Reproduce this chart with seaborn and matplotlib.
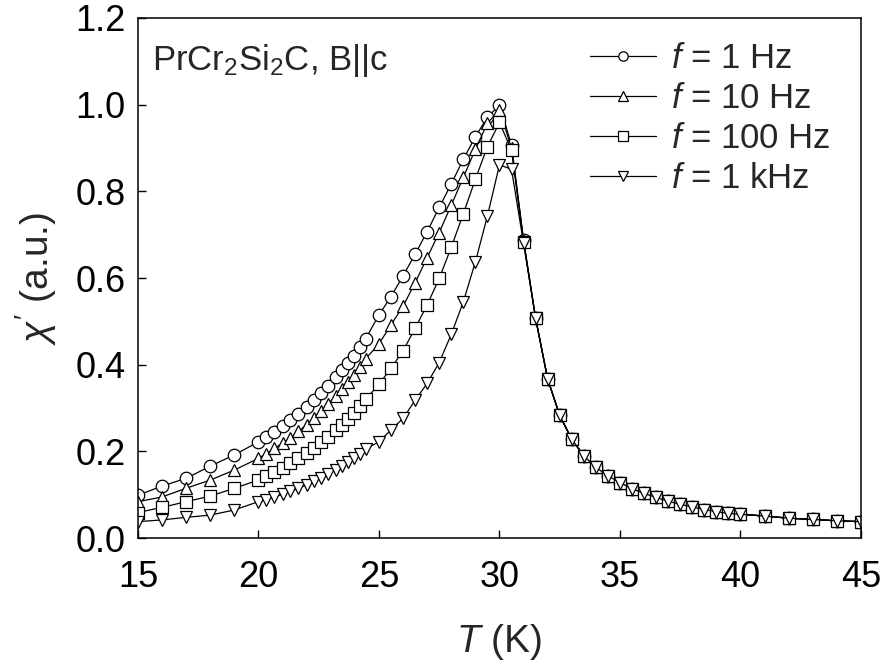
import pandas as pd
import seaborn as sns
import matplotlib.pyplot as plt

# === Datos ===
T_LOW = [15, 16, 17, 18, 19,
         20.0, 20.33, 20.66, 21.0, 21.33, 21.66, 22.0, 22.3, 22.6, 22.9,
         23.2, 23.45, 23.7, 23.95, 24.2, 24.45,
         25, 25.5, 26, 26.5, 27, 27.5, 28, 28.5, 29, 29.5, 30, 30.5, 31]
T_TAIL = [31.5, 32, 32.5, 33, 33.5, 34, 34.5, 35, 35.5, 36, 36.5, 37, 37.5,
          38, 38.5, 39, 39.5, 40, 41, 42, 43, 44, 45]

chi_1hz = [0.099, 0.120, 0.138, 0.166, 0.192,
           0.222, 0.233, 0.245, 0.259, 0.272, 0.286, 0.302, 0.318, 0.335, 0.352,
           0.371, 0.387, 0.403, 0.421, 0.440, 0.460,
           0.515, 0.557, 0.605, 0.655, 0.707, 0.763, 0.817, 0.874, 0.926, 0.971, 0.999, 0.907, 0.688]
chi_10hz = [0.084, 0.095, 0.115, 0.134, 0.157,
            0.184, 0.195, 0.207, 0.219, 0.232, 0.246, 0.262, 0.277, 0.293, 0.310,
            0.328, 0.344, 0.360, 0.377, 0.395, 0.414,
            0.448, 0.492, 0.535, 0.589, 0.647, 0.705, 0.768, 0.832, 0.897, 0.957, 0.988, 0.900, 0.686]
chi_100hz = [0.059, 0.071, 0.084, 0.097, 0.115,
             0.134, 0.143, 0.152, 0.162, 0.173, 0.184, 0.196, 0.208, 0.221, 0.234,
             0.249, 0.262, 0.275, 0.289, 0.304, 0.320,
             0.355, 0.392, 0.432, 0.484, 0.538, 0.599, 0.671, 0.748, 0.828, 0.903, 0.959, 0.895, 0.684]
chi_1khz = [0.038, 0.042, 0.048, 0.053, 0.065,
            0.084, 0.089, 0.095, 0.101, 0.108, 0.115, 0.123, 0.131, 0.139, 0.148,
            0.157, 0.166, 0.175, 0.184, 0.195, 0.206,
            0.222, 0.250, 0.276, 0.318, 0.357, 0.405, 0.470, 0.545, 0.637, 0.743, 0.861, 0.851, 0.680]
# por encima de Tc las cuatro curvas coinciden
chi_tail = [0.507, 0.367, 0.283, 0.228, 0.190, 0.163, 0.144, 0.128, 0.114, 0.103,
            0.094, 0.085, 0.078, 0.072, 0.066, 0.061, 0.057, 0.055, 0.051, 0.046,
            0.043, 0.040, 0.038]

labels = ["1 Hz", "10 Hz", "100 Hz", "1 kHz"]
series = [chi_1hz, chi_10hz, chi_100hz, chi_1khz]

# === Tabla larga para seaborn ===
rows = []
for lab, vals in zip(labels, series):
    for t, v in zip(T_LOW + T_TAIL, vals + chi_tail):
        rows.append({"T": t, "chi": v, "f": lab})
df = pd.DataFrame(rows)

# === Estilo ===
sns.set_theme(style="ticks")
plt.rcParams["font.family"] = ["Liberation Sans", "DejaVu Sans"]
plt.rcParams["mathtext.fontset"] = "custom"
plt.rcParams["mathtext.rm"] = "Liberation Sans"
plt.rcParams["mathtext.it"] = "Liberation Sans:italic"
plt.rcParams["mathtext.bf"] = "Liberation Sans:bold"

fig = plt.figure(figsize=(8.84, 6.66), dpi=100)
ax = fig.add_axes([0.156, 0.192, 0.818, 0.781])

sns.lineplot(data=df, x="T", y="chi", hue="f", style="f",
             hue_order=labels, style_order=labels,
             palette=["black"] * 4,
             markers={"1 Hz": "o", "10 Hz": "^", "100 Hz": "s", "1 kHz": "v"},
             dashes=False, estimator=None, sort=False, legend=False,
             linewidth=0.9, markersize=9, markerfacecolor="white",
             markeredgecolor="black", markeredgewidth=0.9, ax=ax)

ax.set_xlim(15, 45)
ax.set_ylim(0, 1.2)
ax.set_xticks([15, 20, 25, 30, 35, 40, 45])
ax.set_yticks([0.0, 0.2, 0.4, 0.6, 0.8, 1.0, 1.2])
ax.set_yticklabels([f"{v:.1f}" for v in [0.0, 0.2, 0.4, 0.6, 0.8, 1.0, 1.2]])
ax.tick_params(direction="in", length=6, width=1, labelsize=26, pad=9,
               colors="black")
ax.tick_params(axis="x", pad=16)
for sp in ax.spines.values():
    sp.set_visible(True)
    sp.set_linewidth(1.1)
    sp.set_color("black")

ax.set_xlabel(r"$T$ (K)", fontsize=28)
ax.set_ylabel(r"$\chi'$ (a.u.)", fontsize=28)
ax.xaxis.set_label_coords(0.5, -0.20)
ax.yaxis.set_label_coords(-0.141, 0.5)
ax.xaxis.label.set_va("center")
ax.yaxis.label.set_va("center")

ax.text(0.02, 0.919, r"PrCr$_2$Si$_2$C, B||c", transform=ax.transAxes,
        fontsize=25, va="center", ha="left")

leg = ax.legend(ax.lines[:4], [rf"$f$ = {l}" for l in labels],
                loc="upper right", bbox_to_anchor=(0.992, 1.0), frameon=False,
                fontsize=25, handlelength=1.9, markerscale=0.75,
                labelspacing=0.2, handletextpad=0.45, borderaxespad=0.3)

plt.savefig("out.png", dpi=100)
plt.close()
